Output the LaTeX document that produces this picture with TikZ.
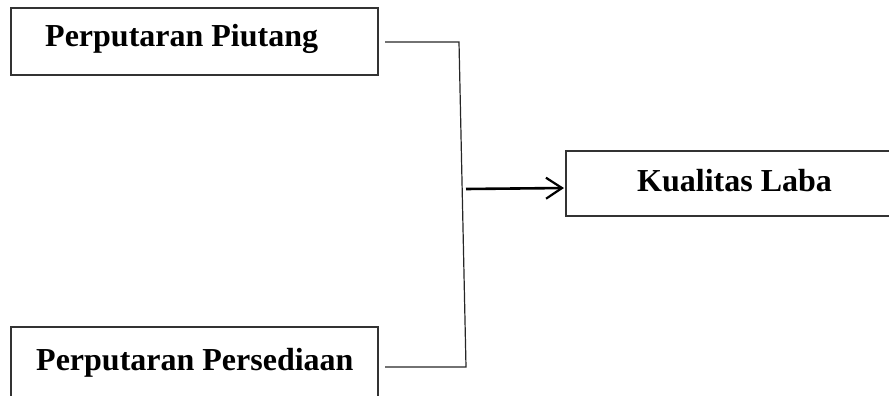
\documentclass[tikz,border=0pt]{standalone}
\usepackage{fontspec}
\setmainfont{Liberation Serif}
\usetikzlibrary{arrows.meta}
\begin{document}
\begin{tikzpicture}[x=1pt,y=-1pt,
  boxst/.style={draw=black!80,line width=1.2pt},
  lbl/.style={anchor=base west,inner sep=0pt,font=\fontsize{32}{36}\selectfont\bfseries},
  conn/.style={draw=black!85,line width=1.2pt},
  arr/.style={draw=black,line width=2.6pt,-{Straight Barb[length=16pt,width=21pt,line width=2.2pt]}}]
\useasboundingbox (0,0) rectangle (889,396);
\begin{scope}
\clip (0,0) rectangle (889,396);
\draw[boxst] (11,8) rectangle (378,75);
\node[lbl] (t1) at (45,47) {Perputaran Piutang};
\draw[boxst] (11,327) rectangle (378,420);
\node[lbl] (t2) at (36,370) {Perputaran Persediaan};
\draw[boxst] (566,151) rectangle (910,216);
\node[lbl] (t3) at (637,191) {Kualitas Laba};
\coordinate (a1) at (385,42);
\coordinate (a2) at (459,42);
\coordinate (a3) at (466,367);
\coordinate (a4) at (385,367);
\coordinate (s) at (466,189);
\coordinate (e) at (564,188);
\draw[conn] (a1) -- (a2) -- (a3) -- (a4);
\draw[arr] (s) -- (e);
\end{scope}
\end{tikzpicture}
\end{document}
